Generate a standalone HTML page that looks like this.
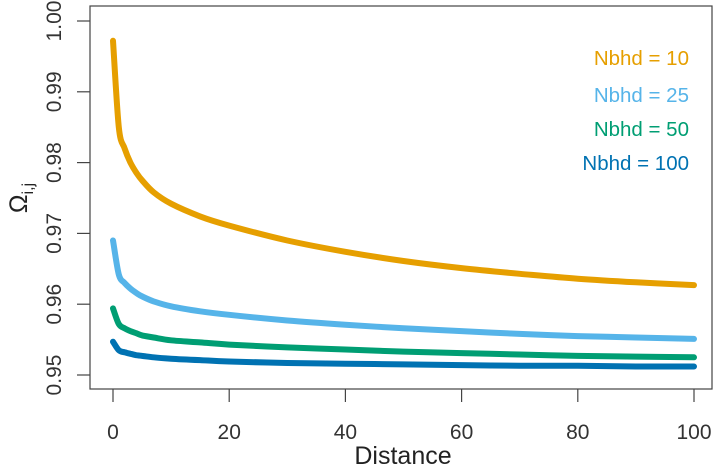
<!DOCTYPE html>
<html><head><meta charset="utf-8"><style>
body{margin:0;background:#fff;}
svg{display:block;font-family:"Liberation Sans",Arial,sans-serif;}
</style></head><body>
<svg id="chart" width="720" height="468" viewBox="0 0 720 468">
<rect x="90" y="6" width="622" height="383" fill="none" stroke="#444" stroke-width="1.2"/>
<g id="axes"></g>
<g id="series"></g>
<g id="legend"></g>
<text x="403" y="464" font-size="25" text-anchor="middle" fill="#222">Distance</text>
<text transform="translate(27,198) rotate(-90)" font-size="25" text-anchor="middle" fill="#222">Ω<tspan font-size="16" dy="6">i,j</tspan></text>
</svg>
<script>
const distances=[0,1,2,3,4,5,7,10,15,20,30,40,50,60,70,80,90,100];
const nbhd10=[0.9972,0.9850,0.9820,0.9800,0.9786,0.9775,0.9758,0.9742,0.9724,0.9711,0.9690,0.9674,0.9661,0.9651,0.9643,0.9636,0.9631,0.9627];
const nbhd25=[0.9690,0.9642,0.9630,0.9622,0.9616,0.9611,0.9604,0.9597,0.9590,0.9585,0.9577,0.9571,0.9566,0.9562,0.9558,0.9555,0.9553,0.9551];
const nbhd50=[0.9594,0.9572,0.9566,0.9562,0.9559,0.9556,0.9553,0.9549,0.9546,0.9543,0.9539,0.9536,0.9533,0.9531,0.9529,0.9527,0.9526,0.9525];
const nbhd100=[0.9547,0.9535,0.9532,0.9530,0.9528,0.9527,0.9525,0.9523,0.9521,0.9519,0.9517,0.9516,0.9515,0.9514,0.9513,0.9513,0.9512,0.9512];
const seriesNames=["Nbhd = 10","Nbhd = 25","Nbhd = 50","Nbhd = 100"];
const xTicks=[0,20,40,60,80,100];
const yTicks=[0.95,0.96,0.97,0.98,0.99,1.00];
const yTickLabels=["0.95","0.96","0.97","0.98","0.99","1.00"];
const colors=["#E69F00","#56B4E9","#009E73","#0072B2"];
const NS="http://www.w3.org/2000/svg";
function xs(v){return 113+(v/100)*581;}
function ys(v){return 375-(v-0.95)*7080;}
const axes=document.getElementById('axes');
function mk(t,a,p){const e=document.createElementNS(NS,t);for(const k in a)e.setAttribute(k,a[k]);p.appendChild(e);return e;}
xTicks.forEach(t=>{
  const l=mk('line',{x1:xs(t),x2:xs(t),y1:389,y2:402,stroke:'#444','stroke-width':1.2},axes);
  
  
  const tx=mk('text',{x:xs(t),y:439,'font-size':21,'text-anchor':'middle',fill:'#333'},axes);
  tx.textContent=t;
  
  
});
yTicks.forEach((t,i)=>{
  const l=mk('line',{x1:77,x2:90,y1:ys(t),y2:ys(t),stroke:'#444','stroke-width':1.2},axes);
  
  
  const tx=mk('text',{transform:`translate(61,${ys(t)}) rotate(-90)`,'font-size':21,'text-anchor':'middle',fill:'#333'},axes);
  tx.textContent=yTickLabels[i];
  
  
});
function smooth(pts){
  let d='M'+pts[0][0].toFixed(1)+','+pts[0][1].toFixed(1);
  for(let i=0;i<pts.length-1;i++){
    const p0=pts[Math.max(0,i-1)],p1=pts[i],p2=pts[i+1],p3=pts[Math.min(pts.length-1,i+2)];
    const c1x=p1[0]+(p2[0]-p0[0])/6,c1y=p1[1]+(p2[1]-p0[1])/6;
    const c2x=p2[0]-(p3[0]-p1[0])/6,c2y=p2[1]-(p3[1]-p1[1])/6;
    d+=`C${c1x.toFixed(1)},${c1y.toFixed(1)} ${c2x.toFixed(1)},${c2y.toFixed(1)} ${p2[0].toFixed(1)},${p2[1].toFixed(1)}`;
  }
  return d;
}
const sg=document.getElementById('series');
[nbhd10,nbhd25,nbhd50,nbhd100].forEach((s,i)=>{
  const pts=s.map((v,j)=>[xs(distances[j]),ys(v)]);
  const p=mk('path',{d:smooth(pts),fill:'none',stroke:colors[i],'stroke-width':6,'stroke-linecap':'round','stroke-linejoin':'round'},sg);
  
  
});
const lg=document.getElementById('legend');
const ly=[65,102,136,170];
seriesNames.forEach((n,i)=>{
  const t=mk('text',{x:689,y:ly[i],'font-size':20.5,'text-anchor':'end',fill:colors[i]},lg);
  t.textContent=n;
  
  
});
</script>
</body></html>
